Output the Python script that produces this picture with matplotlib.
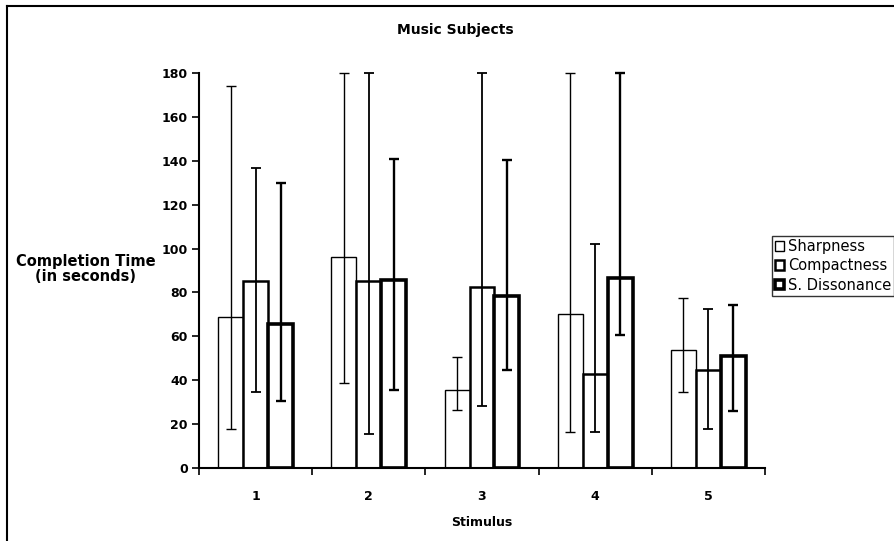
import matplotlib
matplotlib.use("Agg")
import matplotlib.pyplot as plt
from matplotlib.patches import Patch
from matplotlib.lines import Line2D
import numpy as np

# Mean completion times per stimulus, with lower/upper ends of the error bars
stimuli = ["1", "2", "3", "4", "5"]
series = ["Sharpness", "Compactness", "S. Dissonance"]

sharpness = [68.8, 96.2, 35.5, 70.1, 53.9]
sharpness_low = [17.8, 38.8, 26.4, 16.5, 34.6]
sharpness_high = [174.0, 180.0, 50.7, 180.0, 77.6]

compactness = [85.4, 85.0, 82.6, 42.8, 44.8]
compactness_low = [34.7, 15.5, 28.4, 16.5, 17.6]
compactness_high = [136.7, 180.0, 180.0, 102.1, 72.4]

dissonance = [65.8, 85.8, 78.6, 86.8, 50.9]
dissonance_low = [30.5, 35.5, 44.6, 60.6, 25.8]
dissonance_high = [129.9, 140.9, 140.5, 180.0, 74.2]

y_ticks = [0, 20, 40, 60, 80, 100, 120, 140, 160, 180]

W, H = 895, 541
fig = plt.figure(figsize=(W / 100, H / 100), dpi=100)
plt.rcParams["font.family"] = ["DejaVu Sans"]

ax = fig.add_axes([199 / W, 1 - 468 / H, (765 - 199) / W, (468 - 73) / H])

x = np.arange(len(stimuli))
bw = 0.22
edge_widths = [1.0, 1.8, 2.6]
err_widths = [1.0, 1.3, 1.7]
data = [
    (sharpness, sharpness_low, sharpness_high),
    (compactness, compactness_low, compactness_high),
    (dissonance, dissonance_low, dissonance_high),
]

for i, (vals, lo, hi) in enumerate(data):
    vals = np.array(vals)
    pos = x + (i - 1) * bw
    ax.bar(pos, vals, width=bw, color="white", edgecolor="black",
           linewidth=edge_widths[i], zorder=2, label=series[i])
    yerr = np.vstack([vals - np.array(lo), np.array(hi) - vals])
    eb = ax.errorbar(pos, vals, yerr=yerr, fmt="none", ecolor="black",
                     elinewidth=err_widths[i], capsize=3.5,
                     capthick=err_widths[i], zorder=3)
    for art in list(eb.lines[1]) + list(eb.lines[2]):
        art.set_clip_on(False)

ax.set_xlim(-0.5, len(stimuli) - 0.5)
ax.set_ylim(0, 180)
ax.set_yticks(y_ticks)
ax.set_yticklabels([str(t) for t in y_ticks], fontsize=9, fontweight="bold")
ax.set_xticks(x)
ax.set_xticklabels(stimuli, fontsize=9, fontweight="bold")
ax.set_xticks(np.arange(-0.5, len(stimuli)), minor=True)
ax.tick_params(axis="x", which="major", length=0, pad=16)
ax.tick_params(axis="x", which="minor", length=5, width=1.2, direction="out")
ax.tick_params(axis="y", which="major", length=5, width=1.2, direction="out", pad=3)

for s in ["top", "right"]:
    ax.spines[s].set_visible(False)
ax.spines["left"].set_linewidth(1.5)
ax.spines["bottom"].set_linewidth(1.5)

fig.text(455 / W, 1 - 30 / H, "Music Subjects", ha="center", va="center",
         fontsize=10, fontweight="bold")
fig.text(482 / W, 1 - 522 / H, "Stimulus", ha="center", va="center",
         fontsize=9, fontweight="bold")
fig.text(86 / W, 1 - 269 / H, "Completion Time\n(in seconds)", ha="center",
         va="center", fontsize=10.5, fontweight="bold", linespacing=1.0)

handles = [Patch(facecolor="white", edgecolor="black", linewidth=lw)
           for lw in edge_widths]
leg = fig.legend(handles, series, loc="upper left",
                 bbox_to_anchor=(772 / W, 1 - 236 / H), fontsize=10.5,
                 frameon=True, fancybox=False, edgecolor="black",
                 handlelength=0.65, handleheight=0.65, handletextpad=0.25,
                 borderpad=0.2, labelspacing=0.3, borderaxespad=0)
leg.get_frame().set_linewidth(1.0)

# chart area border (left and top edges)
fig.add_artist(Line2D([7 / W, 7 / W], [0, 1 - 6 / H], color="black", lw=1.5,
                      transform=fig.transFigure))
fig.add_artist(Line2D([7 / W, 1], [1 - 6 / H, 1 - 6 / H], color="black", lw=1.5,
                      transform=fig.transFigure))

fig.savefig("out.png", dpi=100)
